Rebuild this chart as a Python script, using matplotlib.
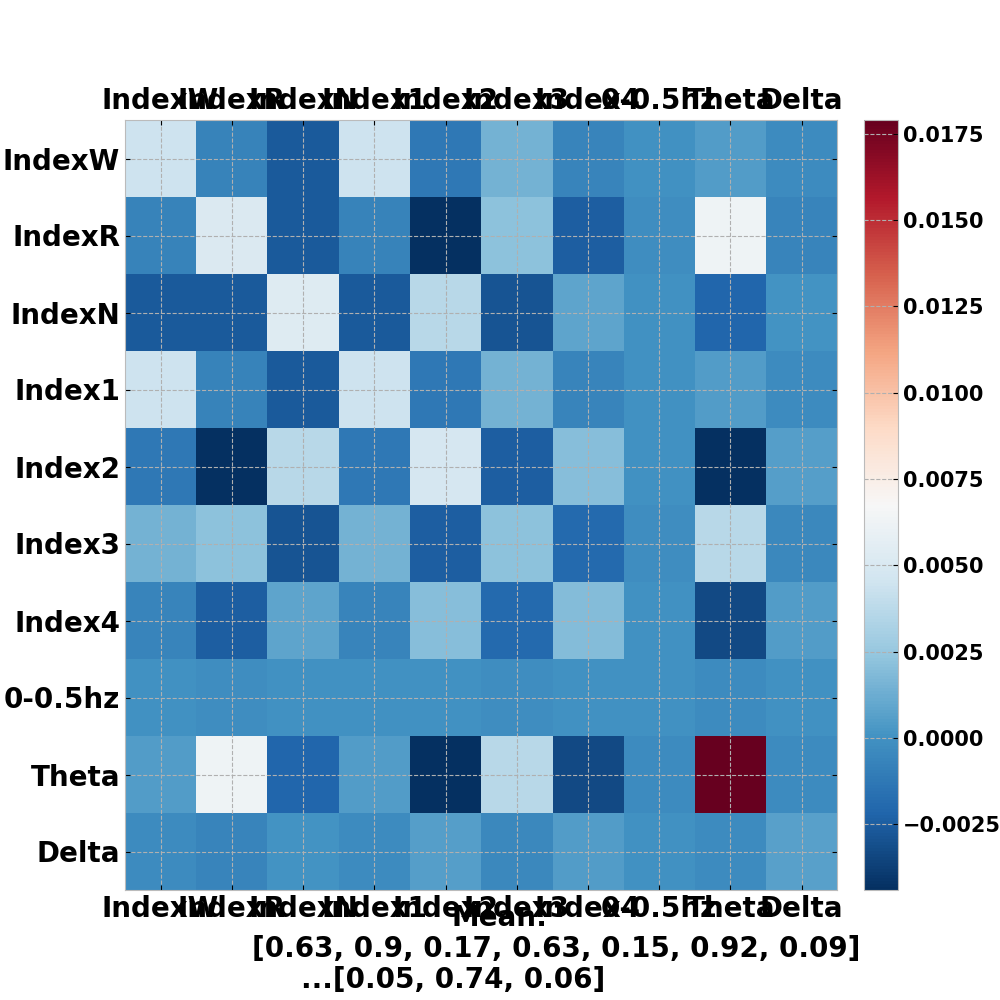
import numpy as np
import matplotlib
matplotlib.use("Agg")
import matplotlib.pyplot as plt

labels = ["IndexW", "IndexR", "IndexN", "Index1", "Index2", "Index3",
          "Index4", "0-0.5hz", "Theta", "Delta"]
# covariance
cov = np.array([
    [0.0044, -0.0007, -0.0026, 0.0044, -0.0012, 0.0015, -0.0006, 0.0000, 0.0005, -0.0003],
    [-0.0007, 0.0051, -0.0026, -0.0007, -0.0044, 0.0022, -0.0024, -0.0002, 0.0063, -0.0006],
    [-0.0026, -0.0026, 0.0053, -0.0026, 0.0037, -0.0029, 0.0009, 0.0000, -0.0021, 0.0001],
    [0.0044, -0.0007, -0.0026, 0.0044, -0.0012, 0.0015, -0.0006, 0.0000, 0.0005, -0.0003],
    [-0.0012, -0.0044, 0.0037, -0.0012, 0.0049, -0.0024, 0.0020, 0.0000, -0.0044, 0.0006],
    [0.0015, 0.0022, -0.0029, 0.0015, -0.0024, 0.0022, -0.0019, -0.0002, 0.0037, -0.0004],
    [-0.0006, -0.0024, 0.0009, -0.0006, 0.0020, -0.0019, 0.0019, 0.0000, -0.0033, 0.0005],
    [0.0000, -0.0002, 0.0000, 0.0000, 0.0000, -0.0002, 0.0000, 0.0000, -0.0003, 0.0000],
    [0.0005, 0.0063, -0.0021, 0.0005, -0.0044, 0.0037, -0.0033, -0.0003, 0.0179, -0.0003],
    [-0.0003, -0.0006, 0.0001, -0.0003, 0.0006, -0.0004, 0.0005, 0.0000, -0.0003, 0.0007],
])
means_head = [0.63, 0.9, 0.17, 0.63, 0.15, 0.92, 0.09]
means_tail = [0.05, 0.74, 0.06]

plt.rcParams.update({
    "font.weight": "bold",
    "axes.grid": True,
    "grid.linestyle": "--",
    "grid.color": "#b0b0b0",
    "grid.linewidth": 0.8,
    "axes.edgecolor": "#bbbbbb",
    "xtick.direction": "in",
    "ytick.direction": "in",
    "xtick.top": True,
    "ytick.right": True,
})

fig = plt.figure(figsize=(10, 10), dpi=100)
ax = fig.gca()
im = ax.imshow(cov, cmap="RdBu_r", aspect="auto")
ax.set_xticks(range(len(labels)))
ax.set_yticks(range(len(labels)))
ax.set_xticklabels(labels, fontsize=20, fontweight="bold")
ax.set_yticklabels(labels, fontsize=20, fontweight="bold")
ax.tick_params(axis="x", labeltop=True, labelbottom=True)

cb = plt.colorbar(im, fraction=0.046, pad=0.035, aspect=22.6)
cb.ax.tick_params(labelsize=15)
for t in cb.ax.get_yticklabels():
    t.set_fontweight("bold")
cb.ax.yaxis.grid(True, linestyle="--", color="#b0b0b0", linewidth=0.8)
cb.outline.set_edgecolor("#bbbbbb")

fig.text(0.50, 0.082, "Mean:", ha="center", va="center", fontsize=20, fontweight="bold")
fig.text(0.556, 0.051, "[" + ", ".join(str(m) for m in means_head) + "]",
         ha="center", va="center", fontsize=20, fontweight="bold")
fig.text(0.453, 0.020, "...[" + ", ".join(str(m) for m in means_tail) + "]",
         ha="center", va="center", fontsize=20, fontweight="bold")

plt.savefig("out.png", dpi=100)
